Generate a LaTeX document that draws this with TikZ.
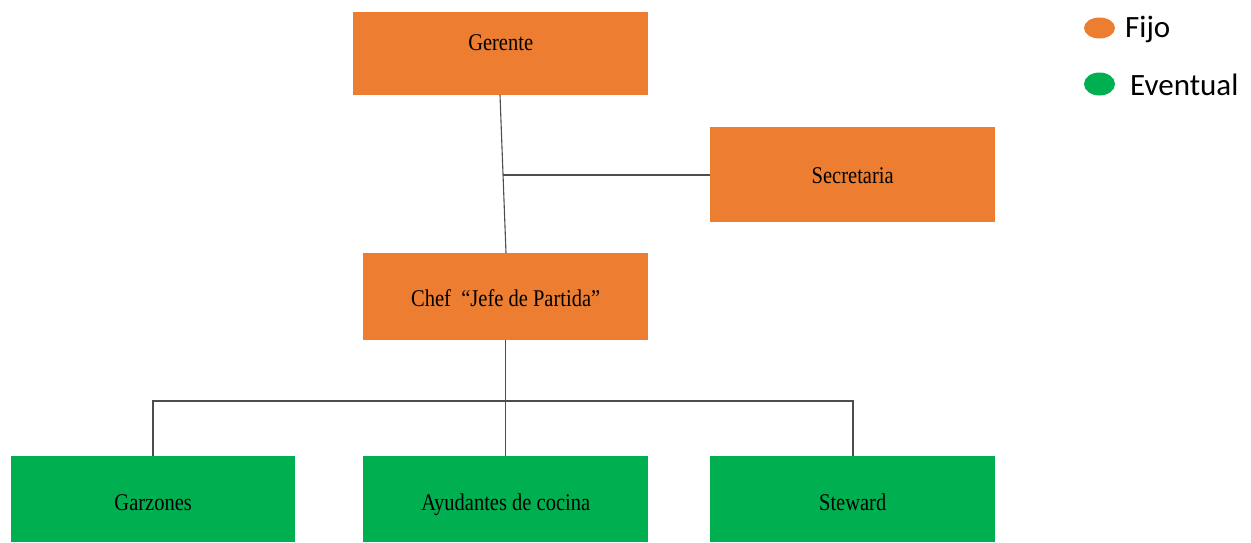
\documentclass[tikz,border=0pt]{standalone}
\usepackage{fontspec}
\usetikzlibrary{shapes.geometric}
\setmainfont{Liberation Serif}
\newfontfamily\legendfont{Carlito}
\definecolor{fijo}{HTML}{ED7D31}
\definecolor{eventual}{HTML}{00B050}
\definecolor{linkgray}{HTML}{4D4D4D}
% slightly tall box lettering
\newcommand\talltext[1]{\scalebox{1}[1.17]{#1}}
\begin{document}
\begin{tikzpicture}[x=1pt,y=-1pt,
  box/.style={anchor=north west, inner sep=0pt},
  fijobox/.style={box, fill=fijo},
  eventbox/.style={box, fill=eventual},
  boxtext/.style={anchor=base, inner sep=0pt, font=\fontsize{20.5}{24}\selectfont, text=black},
  link/.style={draw=linkgray, line width=1.1pt},
  legtext/.style={anchor=west, inner sep=0pt, font=\legendfont\fontsize{31}{36}\selectfont}]
\useasboundingbox (0,0) rectangle (1251,542);
% top levels
\node[fijobox, minimum width=295pt, minimum height=83pt] (ger) at (353,12) {};
\node[fijobox, minimum width=285pt, minimum height=95pt] (sec) at (710,127) {};
\node[fijobox, minimum width=285pt, minimum height=87pt] (chef) at (363,253) {};
% staff
\node[eventbox, minimum width=284pt, minimum height=86pt] (gar) at (11,456) {};
\node[eventbox, minimum width=285pt, minimum height=86pt] (ayu) at (363,456) {};
\node[eventbox, minimum width=285pt, minimum height=86pt] (ste) at (710,456) {};
% labels, set on their baselines
\node[boxtext] (gert) at (ger.center |- 0,50) {\talltext{Gerente}};
\node[boxtext] (sect) at (sec.center |- 0,183) {\talltext{Secretaria}};
\node[boxtext] (cheft) at (chef.center |- 0,306) {\talltext{Chef\ \ “Jefe de Partida”}};
\node[boxtext] (gart) at (gar.center |- 0,510) {\talltext{Garzones}};
\node[boxtext] (ayut) at (ayu.center |- 0,510.5) {\talltext{Ayudantes de cocina}};
\node[boxtext] (stet) at (ste.center |- 0,510) {\talltext{Steward}};
% connectors
\coordinate (gtop) at (500,95);
\coordinate (ctop) at (506,253);
\coordinate (branch) at (503,175);
\draw[link] (gtop) -- (ctop);
\draw[link] (branch) -- (sec.west |- branch);
\coordinate (bar) at (506,401);
\draw[link] (chef.south) -- (ayu.north);
\draw[link] (153,456) |- (bar) -| (853,456);
% legend
\node[ellipse, fill=fijo, minimum width=31pt, minimum height=21pt, inner sep=0pt] (lf) at (1099.5,28) {};
\node[legtext] (tf) at (1125,29.5) {Fijo};
\node[ellipse, fill=eventual, minimum width=31pt, minimum height=23pt, inner sep=0pt] (le) at (1099.5,84) {};
\node[legtext] (te) at (1130,84.5) {Eventual};
\end{tikzpicture}
\end{document}
